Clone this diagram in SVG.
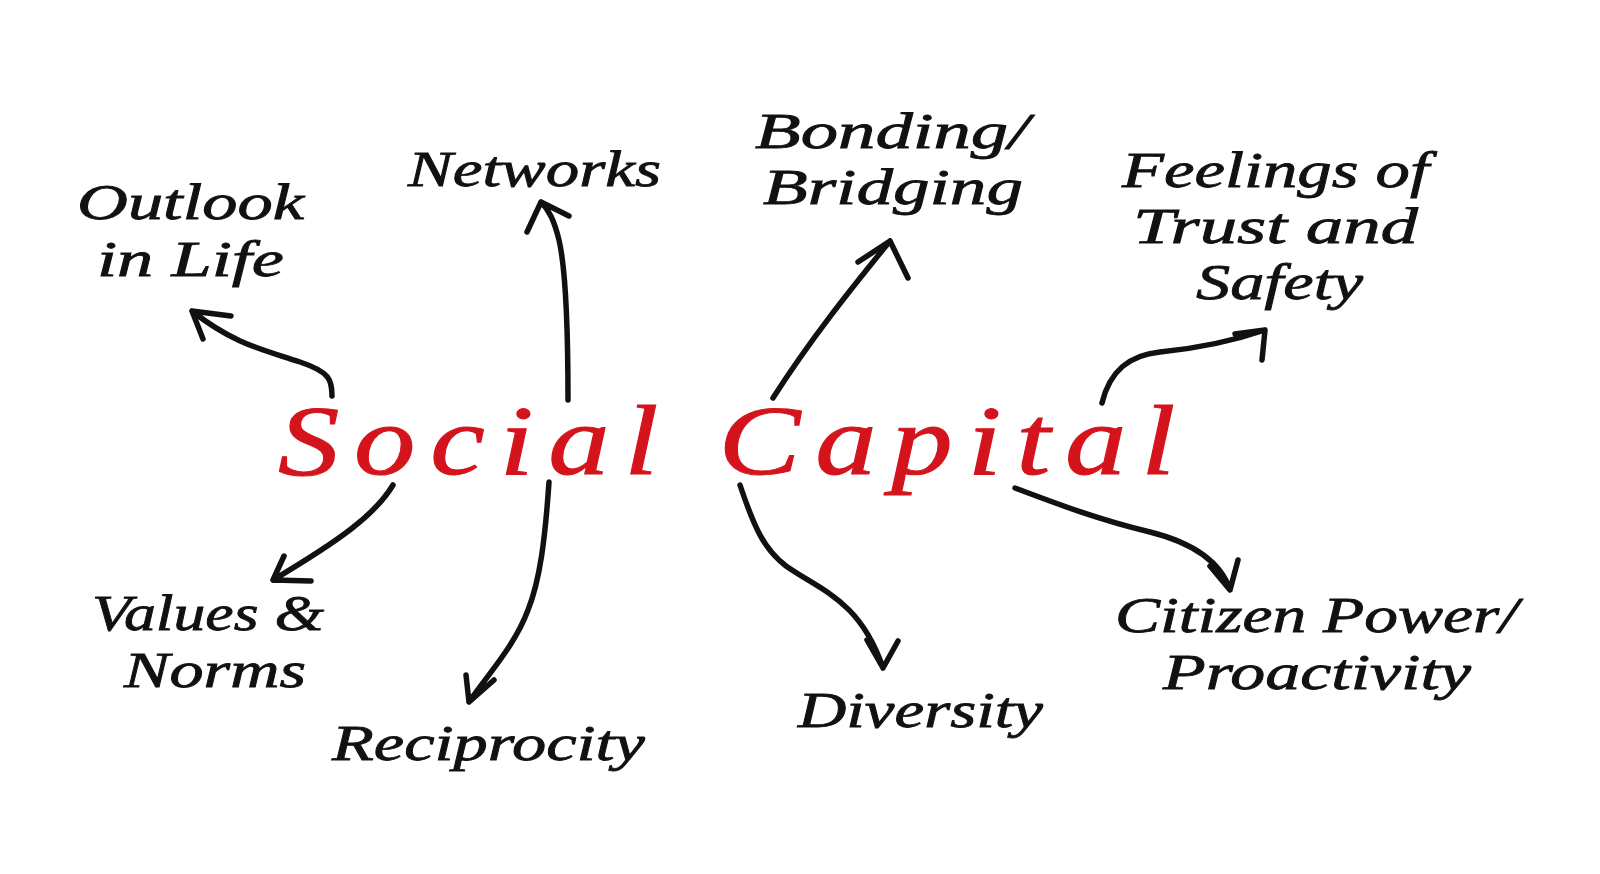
<svg xmlns="http://www.w3.org/2000/svg" width="1600" height="874" viewBox="0 0 1600 874">
<style>
.lbl{font-family:"Liberation Serif","DejaVu Serif",serif;font-style:italic;font-size:50px;fill:#111;stroke:#111;stroke-width:0.8}
.title{font-family:"Liberation Serif","DejaVu Serif",serif;font-style:italic;font-size:100px;letter-spacing:12px;fill:#d4141c;stroke:#d4141c;stroke-width:1}
.arr{fill:none;stroke:#111;stroke-width:5.5;stroke-linecap:round;stroke-linejoin:round}
</style>
<rect width="1600" height="874" fill="#fff"/>
<g id="center"><text class="title" x="278" y="474" textLength="912" lengthAdjust="spacingAndGlyphs">Social Capital</text></g>
<g id="outlook"><text class="lbl" x="77" y="219" textLength="227" lengthAdjust="spacingAndGlyphs">Outlook</text><text class="lbl" x="97" y="276" textLength="187" lengthAdjust="spacingAndGlyphs">in Life</text></g>
<g id="networks"><text class="lbl" x="408" y="186" textLength="253" lengthAdjust="spacingAndGlyphs">Networks</text></g>
<g id="bonding"><text class="lbl" x="755" y="148" textLength="274" lengthAdjust="spacingAndGlyphs">Bonding/</text><text class="lbl" x="763" y="204" textLength="260" lengthAdjust="spacingAndGlyphs">Bridging</text></g>
<g id="feelings"><text class="lbl" x="1122" y="187" textLength="307" lengthAdjust="spacingAndGlyphs">Feelings of</text><text class="lbl" x="1133" y="243" textLength="285" lengthAdjust="spacingAndGlyphs">Trust and</text><text class="lbl" x="1196" y="299" textLength="167" lengthAdjust="spacingAndGlyphs">Safety</text></g>
<g id="values"><text class="lbl" x="92" y="630" textLength="232" lengthAdjust="spacingAndGlyphs">Values &amp;</text><text class="lbl" x="124" y="687" textLength="182" lengthAdjust="spacingAndGlyphs">Norms</text></g>
<g id="reciprocity"><text class="lbl" x="332" y="760" textLength="313" lengthAdjust="spacingAndGlyphs">Reciprocity</text></g>
<g id="diversity"><text class="lbl" x="798" y="727" textLength="245" lengthAdjust="spacingAndGlyphs">Diversity</text></g>
<g id="citizen"><text class="lbl" x="1115" y="632" textLength="403" lengthAdjust="spacingAndGlyphs">Citizen Power/</text><text class="lbl" x="1163" y="689" textLength="308" lengthAdjust="spacingAndGlyphs">Proactivity</text></g>
<g id="connectors">
<path class="arr" d="M332,396 C332,380 330,372 300,362 C265,350 235,345 192,311 M203,339 L192,311 L231,316"/>
<path class="arr" d="M568,400 C568,330 566,270 559,240 C554,220 549,210 541,202 M527,232 L541,202 L569,216"/>
<path class="arr" d="M773,398 C810,340 850,290 890,241 M858,262 L890,241 L908,278"/>
<path class="arr" d="M1102,403 C1110,370 1130,355 1160,352 C1200,348 1230,342 1265,330 M1235,334 L1265,330 L1262,360"/>
<path class="arr" d="M393,485 C375,515 340,540 273,580 M284,556 L273,580 L311,581"/>
<path class="arr" d="M549,482 C545,540 540,580 528,610 C515,645 490,672 469,702 M466,675 L469,702 L494,680"/>
<path class="arr" d="M740,485 C755,530 765,550 786,566 C820,590 860,600 883,668 M867,640 L883,668 L898,641"/>
<path class="arr" d="M1015,488 C1060,505 1100,520 1150,532 C1190,542 1220,560 1230,590 M1210,566 L1230,590 L1238,560"/>
</g>
</svg>
